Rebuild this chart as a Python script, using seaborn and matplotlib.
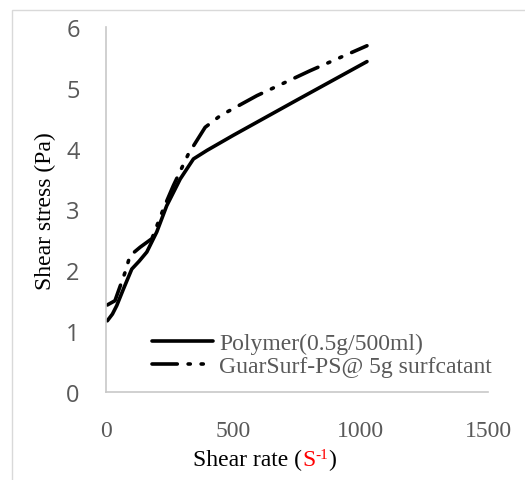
import matplotlib
matplotlib.use("Agg")
import matplotlib.pyplot as plt
import seaborn as sns
import pandas as pd
from matplotlib.patches import Rectangle
from matplotlib.font_manager import FontProperties

# Data
polymer_rate = [5, 25, 42, 68, 101, 130, 160, 199, 238, 291, 343, 396, 500, 750, 1024]
polymer_stress = [1.17, 1.28, 1.42, 1.69, 2.02, 2.15, 2.30, 2.63, 3.06, 3.50, 3.83, 3.97, 4.22, 4.80, 5.43]
guar_rate = [5, 35, 75, 94, 134, 180, 225, 264, 323, 389, 448, 592, 801, 1024]
guar_stress = [1.43, 1.50, 1.97, 2.24, 2.38, 2.52, 3.01, 3.39, 3.91, 4.35, 4.54, 4.87, 5.28, 5.69]
labels = ["Polymer(0.5g/500ml)", "GuarSurf-PS@ 5g surfcatant"]
x_ticks = [0, 500, 1000, 1500]
y_ticks = [0, 1, 2, 3, 4, 5, 6]

df = pd.concat([
    pd.DataFrame({"rate": polymer_rate, "stress": polymer_stress, "series": labels[0]}),
    pd.DataFrame({"rate": guar_rate, "stress": guar_stress, "series": labels[1]}),
])

sns.set_theme(style="white")
plt.rcParams["font.family"] = ["Liberation Serif", "DejaVu Serif"]
SERIF = ["Liberation Serif", "DejaVu Serif"]
serif_fp = FontProperties(family="Liberation Serif", size=17)

fig = plt.figure(figsize=(5.25, 4.81), dpi=100)
ax = fig.add_axes([0.202, 0.183, 0.728, 0.759])

sns.lineplot(data=df, x="rate", y="stress", hue="series", style="series",
             palette=["black", "black"],
             dashes={labels[0]: "", labels[1]: (7, 3, 0.6, 3, 0.6, 3)},
             linewidth=2.6, sort=False, ax=ax, legend=True)
for ln in ax.get_lines():
    ln.set_solid_capstyle("round")
    ln.set_dash_capstyle("round")

ax.set_xlim(0, 1500)
ax.set_ylim(0, 6)
ax.set_xticks(x_ticks)
ax.set_yticks(y_ticks)
ax.set_xticklabels([str(v) for v in x_ticks], fontsize=17, color="#595959",
                   family=SERIF)
ax.set_yticklabels([str(v) for v in y_ticks], fontsize=17, color="#595959",
                   family=["Open Sans", "DejaVu Sans"])
ax.tick_params(axis="x", length=0, pad=20)
ax.tick_params(axis="y", length=0, pad=19)
for s in ["top", "right"]:
    ax.spines[s].set_visible(False)
for s in ["left", "bottom"]:
    ax.spines[s].set_color("#c8c8c8")
    ax.spines[s].set_linewidth(1.2)
ax.grid(False)

ax.set_ylabel("")
ax.set_xlabel("")
fig.text(45 / 525, 1 - 211 / 481, "Shear stress (Pa)", fontproperties=serif_fp,
         color="black", rotation=90, ha="center", va="center")

t1 = fig.text(193 / 525, 1 - 466 / 481, "Shear rate (", fontproperties=serif_fp,
              color="black", ha="left", va="baseline")
t2 = ax.annotate("S", xy=(1, 0), xycoords=t1, fontproperties=serif_fp, color="red",
                 ha="left", va="bottom")
t3 = ax.annotate("-1", xy=(1, 0.42), xycoords=t2,
                 fontproperties=FontProperties(family="Liberation Serif", size=11),
                 color="red", ha="left", va="bottom")
t4 = ax.annotate(")", xy=(1, 0), xycoords=(t3, t2), fontproperties=serif_fp,
                 color="black", ha="left", va="bottom")

handles, lbls = ax.get_legend_handles_labels()
leg = ax.legend(handles, lbls, loc="lower left", bbox_to_anchor=(0.095, 0.015),
                frameon=False, handlelength=2.6, handletextpad=0.25,
                labelspacing=0.05, borderaxespad=0,
                prop={"family": SERIF, "size": 17})
for txt in leg.get_texts():
    txt.set_color("#595959")
for h in leg.get_lines():
    h.set_linewidth(2.6)

fig.patches.append(Rectangle((12 / 525, -0.1), 1.2, (1 - 11 / 481) + 0.1,
                             transform=fig.transFigure, fill=False,
                             edgecolor="#d9d9d9", linewidth=1.0))

fig.savefig("out.png", dpi=100)
